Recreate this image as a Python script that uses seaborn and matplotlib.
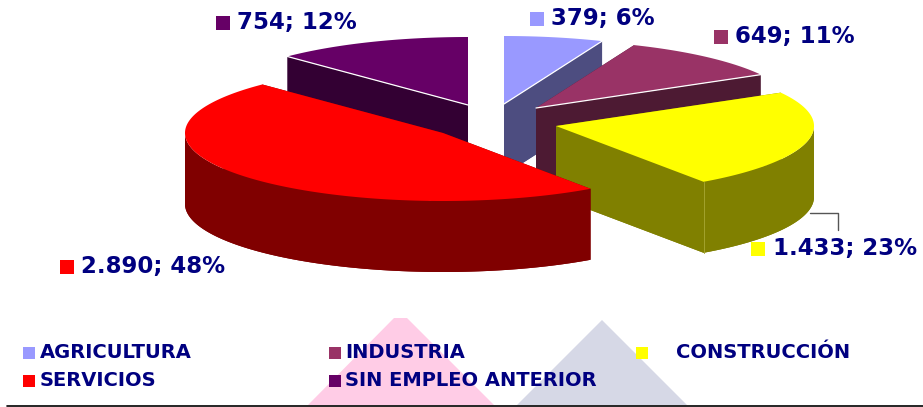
import matplotlib
matplotlib.use("Agg")
import matplotlib.pyplot as plt
import numpy as np
import pandas as pd
import seaborn as sns

# Data
categories = ["AGRICULTURA", "INDUSTRIA", "CONSTRUCCIÓN", "SERVICIOS", "SIN EMPLEO ANTERIOR"]
values = [379, 649, 1433, 2890, 754]
value_labels = ["379", "649", "1.433", "2.890", "754"]
percents = [6, 11, 23, 48, 12]

top_colors = ["#9999FF", "#993366", "#FFFF00", "#FF0000", "#660066"]
side_colors = ["#4D4D80", "#4D1A33", "#808000", "#800000", "#330033"]
navy = "#000080"

# Layout, in pixels of the picture
apex_x = [504, 536, 556, 443, 468]
apex_y = [104, 108, 126, 133, 105]
radius_x = 258
radius_y = 68
depth = 71
draw_order = [4, 0, 1, 2, 3]
white_edge = {0: "end", 1: "end", 4: "start"}

label_x = [551, 735, 773, 81, 237]
label_y = [19, 37, 249, 267, 23]
label_box_x = [537, 721, 758, 67, 223]
legend_x = [40, 345, 676, 40, 345]
legend_y = [353, 353, 353, 381, 381]
legend_box_x = [29, 335, 642, 29, 335]

sns.set_theme(style="white")
plt.rcParams["font.family"] = ["DejaVu Sans"]

fig, ax = plt.subplots(figsize=(9.23, 4.07), dpi=100)
fig.subplots_adjust(0, 0, 1, 1)

# Background triangles
ax.fill([308, 394, 407, 494], [405, 318, 318, 405], color="#FFCCE6", lw=0, zorder=0)
ax.fill([517, 602, 687], [405, 320, 405], color="#D6D8E6", lw=0, zorder=0)
ax.plot([7, 923], [405.5, 405.5], color="black", lw=1.2, zorder=1)

# Slices, clockwise from 12 o'clock
shares = np.array(values) / sum(values) * 360
ends = 90 - np.cumsum(shares)
starts = ends + shares

z = 2
for i in draw_order:
    t = np.radians(np.linspace(starts[i], ends[i], 400))
    x = apex_x[i] + radius_x * np.cos(t)
    y = apex_y[i] - radius_y * np.sin(t)
    px = np.r_[apex_x[i], x]
    py = np.r_[apex_y[i], y]
    # bottom lid, front of the rim and the two cut walls, then the top lid
    ax.fill(px, py + depth, color=side_colors[i], lw=0, zorder=z)
    front = np.sin(t) <= 0
    if front.any():
        ax.fill(np.r_[x[front], x[front][::-1]], np.r_[y[front], y[front][::-1] + depth],
                color=side_colors[i], lw=0, zorder=z)
    for k in (0, -1):
        ax.fill([apex_x[i], x[k], x[k], apex_x[i]],
                [apex_y[i], y[k], y[k] + depth, apex_y[i] + depth],
                color=side_colors[i], lw=0, zorder=z)
    ax.fill(px, py, color=top_colors[i], lw=0, zorder=z + 1)
    if i in white_edge:
        k = -1 if white_edge[i] == "end" else 0
        ax.plot([apex_x[i], x[k]], [apex_y[i], y[k]], color="white", lw=0.9, zorder=z + 2)
    if i == 2:
        ax.plot([x[-1], x[-1]], [y[-1], y[-1] + depth], color="#A3A32E", lw=0.7, zorder=z + 2)
    z += 3

# Leader line of the construction label
ax.plot([810, 838, 838], [213, 213, 230], color="#555555", lw=1, zorder=z)

# Squares of the labels and of the legend
label_boxes = pd.DataFrame({"x": label_box_x, "y": label_y, "cat": categories})
legend_boxes = pd.DataFrame({"x": legend_box_x, "y": legend_y, "cat": categories})
palette = dict(zip(categories, top_colors))
sns.scatterplot(data=label_boxes, x="x", y="y", hue="cat", palette=palette, marker="s",
                s=105, linewidth=0, legend=False, ax=ax, zorder=z)
sns.scatterplot(data=legend_boxes, x="x", y="y", hue="cat", palette=palette, marker="s",
                s=80, linewidth=0, legend=False, ax=ax, zorder=z)
ax.set_xlim(0, 923)
ax.set_ylim(407, 0)
ax.set_axis_off()

for i in range(len(categories)):
    ax.text(label_x[i], label_y[i], f"{value_labels[i]}; {percents[i]}%", color=navy,
            fontsize=16.5, fontweight="bold", va="center", ha="left", zorder=z)
    ax.text(legend_x[i], legend_y[i], categories[i], color=navy,
            fontsize=14, fontweight="bold", va="center", ha="left", zorder=z)

fig.savefig("out.png", dpi=100)
